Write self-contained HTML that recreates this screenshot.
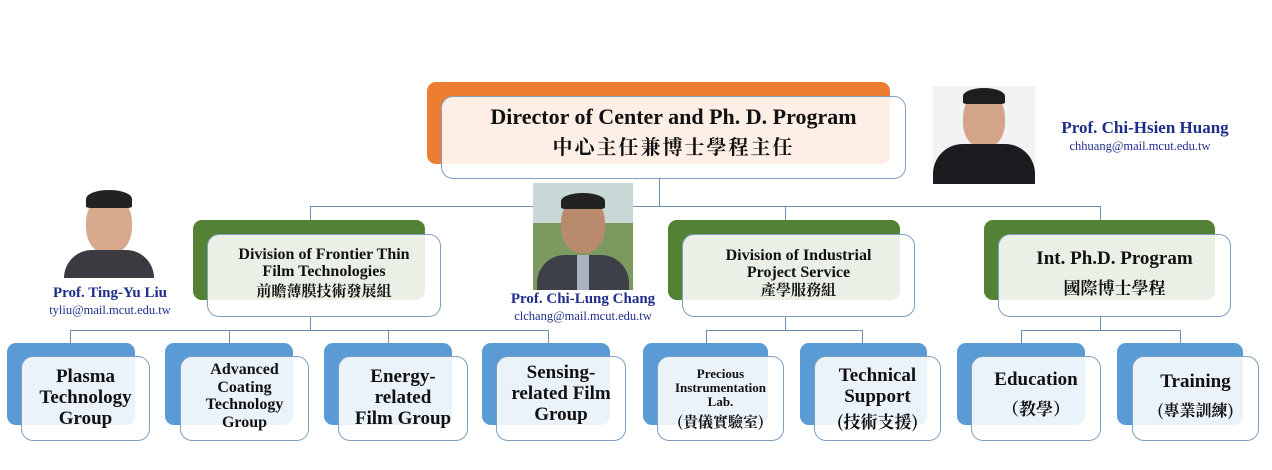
<!DOCTYPE html>
<html><head><meta charset="utf-8"><style>
body{margin:0;width:1272px;height:470px;background:#fff;position:relative;overflow:hidden;font-family:"Liberation Serif","Noto Serif CJK TC","Noto Serif CJK SC",serif;}
.a{position:absolute;box-sizing:border-box}
.bk{border-radius:9px}
.w{border:1.3px solid #7f9fbf;border-radius:12px;background:rgba(255,255,255,0.88);display:flex;flex-direction:column;align-items:center;justify-content:center;text-align:center;font-weight:bold;color:#111;line-height:1.1}
.l{position:absolute;background:#6f8fae}
.nm{position:absolute;color:#1f2d8a;font-weight:bold;font-size:15px;text-align:center;white-space:nowrap}
.em{position:absolute;color:#1f2d8a;font-size:12.5px;text-align:center;white-space:nowrap}
.cj{font-family:"Noto Serif CJK TC","Noto Serif CJK SC",serif}
</style></head><body>
<!-- connectors -->
<div class="l" style="left:659px;top:179px;width:1.3px;height:28px"></div>
<div class="l" style="left:310px;top:206px;width:790px;height:1.3px"></div>
<div class="l" style="left:310px;top:206px;width:1.3px;height:14px"></div>
<div class="l" style="left:785px;top:206px;width:1.3px;height:14px"></div>
<div class="l" style="left:1100px;top:206px;width:1.3px;height:14px"></div>
<div class="l" style="left:310px;top:317px;width:1.3px;height:13px"></div>
<div class="l" style="left:70px;top:330px;width:478px;height:1.3px"></div>
<div class="l" style="left:70px;top:330px;width:1.3px;height:13px"></div>
<div class="l" style="left:229px;top:330px;width:1.3px;height:13px"></div>
<div class="l" style="left:388px;top:330px;width:1.3px;height:13px"></div>
<div class="l" style="left:548px;top:330px;width:1.3px;height:13px"></div>
<div class="l" style="left:785px;top:317px;width:1.3px;height:13px"></div>
<div class="l" style="left:706px;top:330px;width:156px;height:1.3px"></div>
<div class="l" style="left:706px;top:330px;width:1.3px;height:13px"></div>
<div class="l" style="left:862px;top:330px;width:1.3px;height:13px"></div>
<div class="l" style="left:1100px;top:317px;width:1.3px;height:13px"></div>
<div class="l" style="left:1021px;top:330px;width:159px;height:1.3px"></div>
<div class="l" style="left:1021px;top:330px;width:1.3px;height:13px"></div>
<div class="l" style="left:1180px;top:330px;width:1.3px;height:13px"></div>

<!-- top -->
<div class="a bk" style="left:427px;top:82px;width:463px;height:82px;background:#ed7d31"></div>
<div class="a w" style="left:441px;top:96px;width:465px;height:83px;justify-content:flex-start;padding-top:8px">
<div style="font-size:22px">Director of Center and Ph. D. Program</div>
<div class="cj" style="font-size:20px;margin-top:6px;letter-spacing:2px">中心主任兼博士學程主任</div></div>

<!-- divisions -->
<div class="a bk" style="left:193px;top:220px;width:232px;height:80px;background:#548235"></div>
<div class="a w" style="left:207px;top:234px;width:234px;height:83px;font-size:16px;padding-bottom:6px">
<div>Division of Frontier Thin<br>Film Technologies</div><div class="cj" style="font-size:15px;margin-top:2px">前瞻薄膜技術發展組</div></div>
<div class="a bk" style="left:668px;top:220px;width:232px;height:80px;background:#548235"></div>
<div class="a w" style="left:682px;top:234px;width:233px;height:83px;font-size:16px;padding-bottom:6px">
<div>Division of Industrial<br>Project Service</div><div class="cj" style="font-size:15px">產學服務組</div></div>
<div class="a bk" style="left:984px;top:220px;width:231px;height:80px;background:#548235"></div>
<div class="a w" style="left:998px;top:234px;width:233px;height:83px;font-size:19px;padding-bottom:6px">
<div>Int. Ph.D. Program</div><div class="cj" style="font-size:17px;margin-top:8px">國際博士學程</div></div>

<!-- groups -->
<div class="a bk" style="left:7px;top:343px;width:128px;height:82px;background:#5b9bd5"></div>
<div class="a w" style="left:21px;top:356px;width:129px;height:85px;font-size:19px">Plasma<br>Technology<br>Group</div>
<div class="a bk" style="left:165px;top:343px;width:128px;height:82px;background:#5b9bd5"></div>
<div class="a w" style="left:180px;top:356px;width:129px;height:85px;font-size:16px;justify-content:flex-start;padding-top:4px">Advanced<br>Coating<br>Technology<br>Group</div>
<div class="a bk" style="left:324px;top:343px;width:128px;height:82px;background:#5b9bd5"></div>
<div class="a w" style="left:338px;top:356px;width:130px;height:85px;font-size:19px">Energy-<br>related<br>Film Group</div>
<div class="a bk" style="left:482px;top:343px;width:128px;height:82px;background:#5b9bd5"></div>
<div class="a w" style="left:496px;top:356px;width:130px;height:85px;font-size:19px;padding-bottom:8px">Sensing-<br>related Film<br>Group</div>
<div class="a bk" style="left:643px;top:343px;width:125px;height:82px;background:#5b9bd5"></div>
<div class="a w" style="left:657px;top:356px;width:127px;height:85px;font-size:13px"><div>Precious<br>Instrumentation<br>Lab.</div><div class="cj" style="font-size:15px;margin-top:4px">(貴儀實驗室)</div></div>
<div class="a bk" style="left:800px;top:343px;width:127px;height:82px;background:#5b9bd5"></div>
<div class="a w" style="left:814px;top:356px;width:127px;height:85px;font-size:19px"><div>Technical<br>Support</div><div class="cj" style="font-size:17px;margin-top:4px">(技術支援)</div></div>
<div class="a bk" style="left:957px;top:343px;width:128px;height:82px;background:#5b9bd5"></div>
<div class="a w" style="left:971px;top:356px;width:130px;height:85px;font-size:19px;padding-bottom:10px"><div>Education</div><div class="cj" style="font-size:17px;margin-top:8px">（教學）</div></div>
<div class="a bk" style="left:1117px;top:343px;width:126px;height:82px;background:#5b9bd5"></div>
<div class="a w" style="left:1132px;top:356px;width:127px;height:85px;font-size:19px;padding-bottom:6px"><div>Training</div><div class="cj" style="font-size:16px;margin-top:8px">(專業訓練)</div></div>

<!-- photos -->
<div class="a" style="left:64px;top:188px;width:90px;height:90px;background:#fff">
<div class="a" style="left:22px;top:8px;width:46px;height:58px;border-radius:45%;background:#d9a98e"></div>
<div class="a" style="left:22px;top:2px;width:46px;height:18px;border-radius:50% 50% 10% 10%;background:#222"></div>
<div class="a" style="left:0;top:62px;width:90px;height:28px;border-radius:30px 30px 0 0;background:#3a3a40"></div></div>
<div class="a" style="left:533px;top:183px;width:100px;height:107px;background:#7c9a60">
<div class="a" style="left:0;top:0;width:100px;height:40px;background:#c8d8d6"></div>
<div class="a" style="left:28px;top:14px;width:44px;height:56px;border-radius:45%;background:#b98b6c"></div>
<div class="a" style="left:28px;top:10px;width:44px;height:16px;border-radius:50% 50% 10% 10%;background:#222"></div>
<div class="a" style="left:4px;top:72px;width:92px;height:35px;border-radius:28px 28px 0 0;background:#3d4048"></div>
<div class="a" style="left:44px;top:72px;width:12px;height:35px;background:#aab3c0"></div></div>
<div class="a" style="left:933px;top:86px;width:102px;height:98px;background:#f2f2f2">
<div class="a" style="left:30px;top:6px;width:42px;height:56px;border-radius:45%;background:#d3a488"></div>
<div class="a" style="left:30px;top:2px;width:42px;height:16px;border-radius:50% 50% 10% 10%;background:#1e1e1e"></div>
<div class="a" style="left:0;top:58px;width:102px;height:40px;border-radius:30px 30px 0 0;background:#1c1c20"></div></div>

<div class="nm" style="left:30px;top:285px;width:160px">Prof. Ting-Yu Liu</div>
<div class="em" style="left:20px;top:303px;width:180px">tyliu@mail.mcut.edu.tw</div>
<div class="nm" style="left:490px;top:291px;width:186px">Prof. Chi-Lung Chang</div>
<div class="em" style="left:485px;top:309px;width:196px">clchang@mail.mcut.edu.tw</div>
<div class="nm" style="left:1040px;top:118px;width:210px;font-size:17px">Prof. Chi-Hsien Huang</div>
<div class="em" style="left:1040px;top:139px;width:200px">chhuang@mail.mcut.edu.tw</div>
</body></html>
